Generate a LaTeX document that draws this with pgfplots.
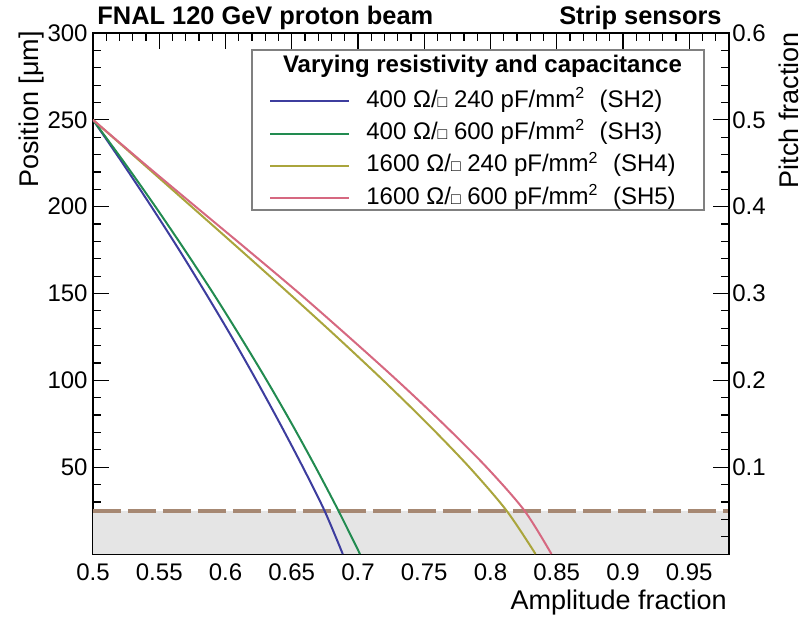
\documentclass[border=0pt]{standalone}
\usepackage{fontspec}
\setmainfont{Liberation Sans}
\usepackage{pgfplots}
\pgfplotsset{compat=1.18}
\definecolor{cblue}{RGB}{61,61,158}
\definecolor{cgreen}{RGB}{34,139,80}
\definecolor{colive}{RGB}{170,165,60}
\definecolor{cpink}{RGB}{214,104,128}
\definecolor{cdash}{RGB}{166,136,115}
\definecolor{cfill}{RGB}{229,229,229}
\newcommand{\sq}{{\fontsize{8}{8}\selectfont □}}
\begin{document}
\begin{tikzpicture}
\path[use as bounding box] (-46.5pt,-31.5pt) rectangle (355.5pt,277pt);
\pgfplotsset{
  common/.style={
    scale only axis, width=318pt, height=260.5pt,
    xmin=0.5, xmax=0.98,
    enlargelimits=false,
    tick align=inside,
    major tick length=8pt, minor tick length=4pt,
    every tick/.style={black, line width=0.6pt},
    axis line style={line width=0.75pt},
    tick label style={font=\fontsize{12}{14}\selectfont},
    /pgf/number format/assume math mode=true,
    label style={font=\fontsize{13.5}{16}\selectfont, inner sep=0pt},
  }
}
\begin{axis}[common,
  clip mode=individual,
  ymin=0, ymax=300,
  xtick={0.5,0.55,0.6,0.65,0.7,0.75,0.8,0.85,0.9,0.95},
  xticklabels={0.5,0.55,0.6,0.65,0.7,0.75,0.8,0.85,0.9,0.95},
  minor xtick={0.51,0.52,0.53,0.54,0.56,0.57,0.58,0.59,0.61,0.62,0.63,0.64,0.66,0.67,0.68,0.69,0.71,0.72,0.73,0.74,0.76,0.77,0.78,0.79,0.81,0.82,0.83,0.84,0.86,0.87,0.88,0.89,0.91,0.92,0.93,0.94,0.96,0.97,0.98},
  ytick={50,100,150,200,250,300},
  yticklabels={50,100,150,200,250,300},
  minor ytick={10,20,30,40,60,70,80,90,110,120,130,140,160,170,180,190,210,220,230,240,260,270,280,290},
  ytick pos=left,
  xticklabel style={inner ysep=4.5pt},
  yticklabel style={inner xsep=2.5pt},
  xlabel={Amplitude fraction},
  ylabel={Position [μm]},
  xlabel style={at={(axis description cs:0.997,-0.069)}, anchor=north east},
  ylabel style={at={(axis description cs:-0.0755,1.004)}, anchor=south east},
  legend style={draw=none, fill=none, at={(axis description cs:0.2767,0.8931)}, anchor=north west,
    inner sep=0pt, row sep=4.2pt, font=\fontsize{12}{14}\selectfont,
    nodes={inner sep=0pt, text height=9pt, text depth=3pt},
    /tikz/every odd column/.append style={column sep=8pt}},
  legend cell align=left,
  legend image code/.code={\draw[#1] (0pt,0pt) -- (39.5pt,0pt);},
]
\addplot[draw=none, fill=cfill, forget plot] coordinates {(0.5,0) (0.98,0) (0.98,25) (0.5,25)} -- cycle;
\addplot[color=cdash, line width=2pt, dash pattern=on 14pt off 3.5pt, forget plot] coordinates {(0.5,25) (0.98,25)};
\addplot[color=cblue, line width=1pt, smooth] table[x=a, y=p] {
a p
0.5000 250
0.5224 225
0.5441 200
0.5651 175
0.5852 150
0.6047 125
0.6233 100
0.6412 75
0.6584 50
0.6747 25
0.6885 0
};
\addlegendentry{400 Ω/\sq\ 240 pF/mm\textsuperscript{2}\hspace{0.6em}(SH2)}
\addplot[color=cgreen, line width=1pt, smooth] table[x=a, y=p] {
a p
0.5000 250
0.5240 225
0.5471 200
0.5693 175
0.5908 150
0.6113 125
0.6311 100
0.6500 75
0.6680 50
0.6852 25
0.7015 0
};
\addlegendentry{400 Ω/\sq\ 600 pF/mm\textsuperscript{2}\hspace{0.6em}(SH3)}
\addplot[color=colive, line width=1pt, smooth] table[x=a, y=p] {
a p
0.5000 250
0.5373 225
0.5744 200
0.6114 175
0.6480 150
0.6840 125
0.7190 100
0.7525 75
0.7840 50
0.8121 25
0.8340 0
};
\addlegendentry{1600 Ω/\sq\ 240 pF/mm\textsuperscript{2}\hspace{0.6em}(SH4)}
\addplot[color=cpink, line width=1pt, smooth] table[x=a, y=p] {
a p
0.5000 250
0.5383 225
0.5775 200
0.6169 175
0.6558 150
0.6931 125
0.7295 100
0.7643 75
0.7970 50
0.8256 25
0.8460 0
};
\addlegendentry{1600 Ω/\sq\ 600 pF/mm\textsuperscript{2}\hspace{0.6em}(SH5)}
\draw[gray, line width=0.6pt, fill=white] (axis description cs:0.25,0.6603) rectangle (axis description cs:0.9607,0.9674);
\node[anchor=base, inner sep=0pt, font=\bfseries\fontsize{12}{14}\selectfont] at (axis description cs:0.6124,0.9238) {Varying resistivity and capacitance};
\node[anchor=base west, inner sep=0pt, font=\bfseries\fontsize{12.7}{15}\selectfont] at (axis description cs:0.0063,1.0154) {FNAL 120 GeV proton beam};
\node[anchor=base east, inner sep=0pt, font=\bfseries\fontsize{12.7}{15}\selectfont] at (axis description cs:0.989,1.0154) {Strip sensors};
\end{axis}
\begin{axis}[common,
  ymin=0, ymax=0.6,
  axis x line=none,
  axis y line*=right,
  axis line style={-, line width=0.75pt},
  ytick={0.1,0.2,0.3,0.4,0.5,0.6},
  yticklabels={0.1,0.2,0.3,0.4,0.5,0.6},
  minor ytick={0.02,0.04,0.06,0.08,0.12,0.14,0.16,0.18,0.22,0.24,0.26,0.28,0.32,0.34,0.36,0.38,0.42,0.44,0.46,0.48,0.52,0.54,0.56,0.58},
  yticklabel style={inner xsep=1.5pt},
  ylabel={Pitch fraction},
  ylabel style={at={(axis description cs:1.0786,1.002)}, anchor=north east},
]
\end{axis}
\end{tikzpicture}
\end{document}
